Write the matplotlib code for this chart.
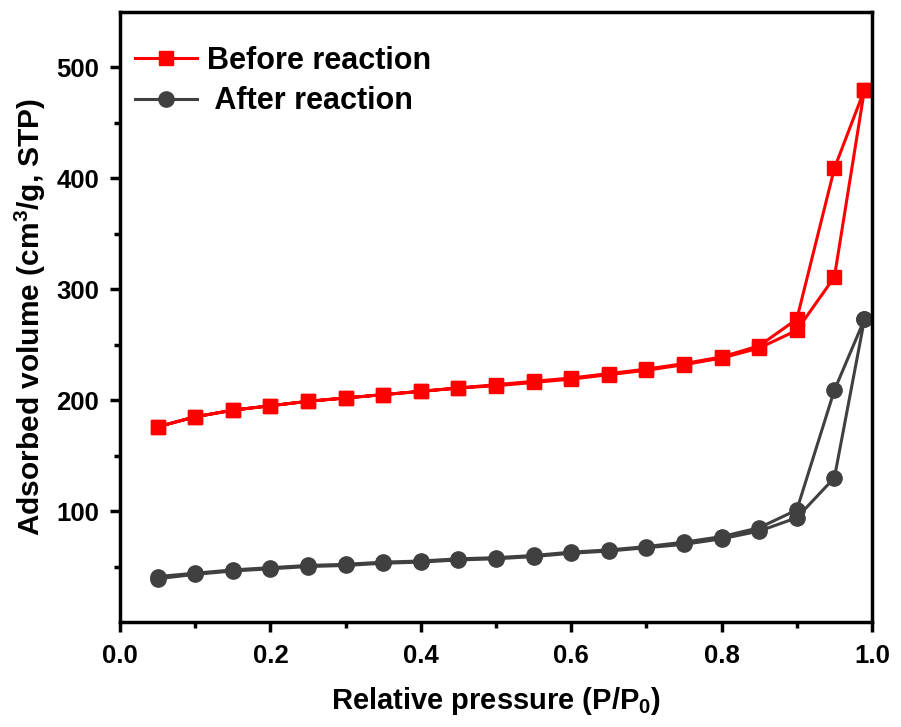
import matplotlib.pyplot as plt
import numpy as np

plt.rcParams['font.family'] = ['Liberation Sans', 'DejaVu Sans']
plt.rcParams['font.weight'] = 'bold'
plt.rcParams['mathtext.fontset'] = 'custom'
plt.rcParams['mathtext.bf'] = 'Liberation Sans:bold'

# relative pressure, adsorption branch (desorption runs back over the same points)
p_ads = [0.05, 0.10, 0.15, 0.20, 0.25, 0.30, 0.35, 0.40, 0.45, 0.50,
         0.55, 0.60, 0.65, 0.70, 0.75, 0.80, 0.85, 0.90, 0.95, 0.99]
p_des = [0.99, 0.95, 0.90, 0.85, 0.80, 0.75, 0.70, 0.65, 0.60, 0.55,
         0.50, 0.45, 0.40, 0.35, 0.30, 0.25, 0.20, 0.15, 0.10, 0.05]

vor_ads = [176, 185, 191, 195, 199, 202, 205, 208, 211, 213,
           216, 219, 223, 227, 232, 238, 247, 263, 311, 480]
vor_des = [480, 409, 273, 249, 239, 233, 228, 224, 220, 217,
           214, 211, 208, 205, 202, 199, 195, 191, 185, 176]

nach_ads = [39, 43, 46, 48, 50, 51, 53, 54, 56, 57,
            59, 62, 64, 67, 70, 75, 82, 94, 130, 273]
nach_des = [273, 209, 101, 85, 77, 72, 68, 65, 63, 60,
            58, 57, 55, 54, 52, 51, 49, 47, 44, 41]

fig = plt.figure(figsize=(9.01, 7.27), dpi=100)
ax = fig.add_axes([0.1332, 0.1444, 0.8346, 0.8391])

ax.plot(p_ads + p_des, vor_ads + vor_des, color='#FF0000', lw=2.2,
        marker='s', ms=10, label='Before reaction')
ax.plot(p_ads + p_des, nach_ads + nach_des, color='#404040', lw=2.2,
        marker='o', ms=11, label=' After reaction')

ax.set_xlim(0, 1.0)
ax.set_ylim(0, 550)
ax.set_xticks(np.arange(0, 1.01, 0.2))
ax.set_xticks(np.arange(0.1, 1.0, 0.2), minor=True)
ax.set_yticks([100, 200, 300, 400, 500])
ax.set_yticks([50, 150, 250, 350, 450], minor=True)

for s in ax.spines.values():
    s.set_linewidth(2.5)
ax.tick_params(which='major', direction='out', length=7, width=2.5, labelsize=18.5)
ax.tick_params(axis='x', which='major', pad=9)
ax.tick_params(axis='y', which='major', pad=8)
ax.tick_params(which='minor', direction='out', length=4, width=2.5)

ax.set_xlabel('Relative pressure (P/P$_\\mathbf{0}$)', fontsize=21, fontweight='bold', labelpad=12)
ax.set_ylabel('Adsorbed volume (cm$^\\mathbf{3}$/g, STP)', fontsize=21.5, fontweight='bold', labelpad=6)

ax.legend(loc='upper left', frameon=False, handlelength=2.0,
          bbox_to_anchor=(-0.012, 0.985), borderaxespad=0.4,
          handletextpad=0.35, labelspacing=0.35,
          prop={'weight': 'bold', 'size': 22})

fig.savefig('out.png', dpi=100)
